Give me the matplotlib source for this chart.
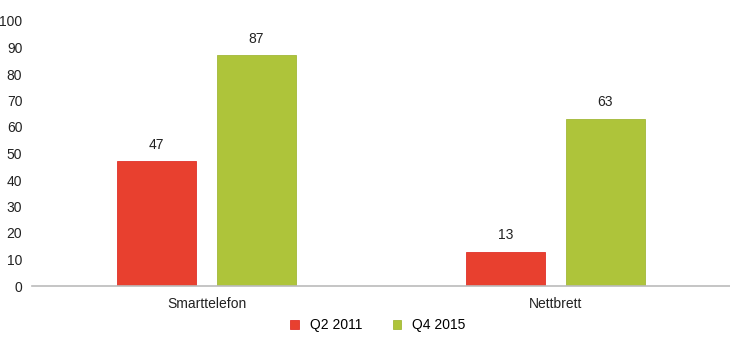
import matplotlib.pyplot as plt
import numpy as np

plt.rcParams['font.family'] = ['Liberation Sans', 'DejaVu Sans']

categories = ["Smarttelefon", "Nettbrett"]
series_names = ["Q2 2011", "Q4 2015"]
q2_2011 = [47, 13]
q4_2015 = [87, 63]
y_ticks = list(range(0, 101, 10))

red = '#E8402F'
green = '#AEC43A'

fig = plt.figure(figsize=(7.3, 3.56), dpi=100)
ax = fig.add_axes([32 / 730, 1 - 286 / 356, 1 - 32 / 730, (286 - 21) / 356])

index = np.arange(len(categories))
bar_width = 0.229
offset = bar_width / 2 + 0.0287

b1 = ax.bar(index - offset, q2_2011, bar_width, color=red, edgecolor='#E0302A', linewidth=0.6, label=series_names[0])
b2 = ax.bar(index + offset, q4_2015, bar_width, color=green, edgecolor='#A2B838', linewidth=0.6, label=series_names[1])

for bars in (b1, b2):
    for rect in bars:
        h = rect.get_height()
        ax.annotate(str(h), (rect.get_x() + rect.get_width() / 2, h),
                    xytext=(0, 7), textcoords='offset points',
                    ha='center', va='bottom', fontsize=10, color='#222222')

ax.set_xlim(-0.5, 1.5)
ax.set_ylim(0, 100)
ax.set_yticks(y_ticks)
ax.set_xticks(index)
ax.set_xticklabels(categories)
ax.tick_params(axis='both', length=0, labelsize=10, colors='#222222')
ax.tick_params(axis='y', pad=7)
ax.tick_params(axis='x', pad=8)

for s in ['top', 'right', 'left']:
    ax.spines[s].set_visible(False)
ax.spines['bottom'].set_color('#BBBBBB')
ax.spines['bottom'].set_linewidth(1.2)

fig.legend(handles=[b1, b2], labels=series_names, loc='center', bbox_to_anchor=(378 / 730, 1 - 325 / 356),
           ncol=2, frameon=False, fontsize=10, handlelength=0.6, handleheight=0.6,
           handletextpad=0.8, columnspacing=2.2)

plt.savefig('out.png', dpi=100)
plt.close()
